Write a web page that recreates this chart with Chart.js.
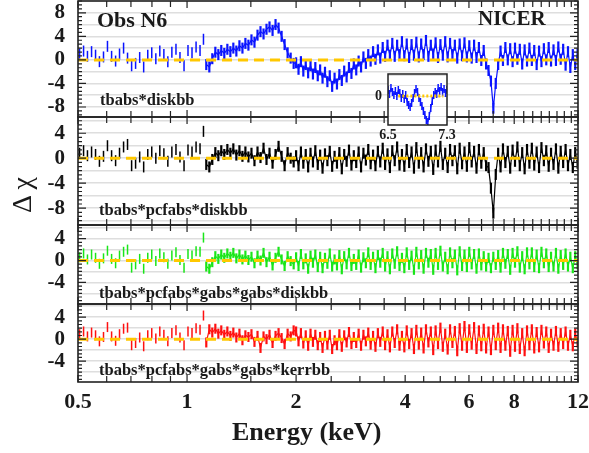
<!DOCTYPE html>
<html>
<head>
<meta charset="utf-8">
<script src="https://cdn.jsdelivr.net/npm/chart.js"></script>
<style>
  body { margin: 0; background: #fff; }
  #wrap { position: relative; width: 589px; height: 453px; overflow: hidden; background: #fff; }
  canvas { position: absolute; left: 0; }
  .lbl { position: absolute; white-space: nowrap; font-family: 'Liberation Serif', 'Times New Roman', serif; font-weight: bold; color: #1a1a1a; }
</style>
</head>
<body>
<div id="wrap">
  <canvas id="p1" width="589" height="120" style="top:-1px"></canvas>
  <canvas id="p2" width="589" height="112" style="top:115px"></canvas>
  <canvas id="p3" width="589" height="83" style="top:223px"></canvas>
  <canvas id="p4" width="589" height="151" style="top:302px"></canvas>
  <canvas id="inset" width="120" height="75" style="left:340px; top:70px; z-index:2"></canvas>

  <div class="lbl" style="left:97px; top:8px; font-size:22px; line-height:24px">Obs N6</div>
  <div class="lbl" style="left:478px; top:6px; font-size:21px; line-height:24px">NICER</div>
  <div class="lbl" style="left:100px; top:91px; font-size:16.5px; line-height:18px">tbabs*diskbb</div>
  <div class="lbl" style="left:99px; top:201px; font-size:16.5px; line-height:18px">tbabs*pcfabs*diskbb</div>
  <div class="lbl" style="left:99px; top:284px; font-size:16.5px; line-height:18px">tbabs*pcfabs*gabs*gabs*diskbb</div>
  <div class="lbl" style="left:99px; top:361px; font-size:16.5px; line-height:18px">tbabs*pcfabs*gabs*gabs*kerrbb</div>
  <div class="lbl" style="left:232px; top:417px; font-size:26px; line-height:30px">Energy (keV)</div>
  <div class="lbl" style="left:-18px; top:180px; width:80px; height:30px; line-height:30px; text-align:center; font-size:28px; font-weight:normal; transform:rotate(-90deg)">Δ χ</div>
</div>

<script>
// Residuals (delta chi) of the NICER spectrum, Obs N6, for four models

// bin energies (keV); the first 32 bins are the sparse low-energy ones
const ENERGY = [
  0.505, 0.518, 0.531, 0.545, 0.559, 0.573, 0.588, 0.603, 0.619, 0.635,
  0.651, 0.668, 0.685, 0.703, 0.721, 0.740, 0.759, 0.779, 0.799, 0.820,
  0.841, 0.863, 0.885, 0.908, 0.932, 0.956, 0.981, 1.006, 1.032, 1.059,
  1.086, 1.110,
  1.130, 1.152, 1.174, 1.197, 1.220, 1.243, 1.267, 1.292, 1.317, 1.342,
  1.368, 1.395, 1.422, 1.449, 1.477, 1.506, 1.535, 1.565, 1.595, 1.626,
  1.657, 1.689, 1.722, 1.755, 1.789, 1.824, 1.859, 1.895, 1.932, 1.969,
  2.000, 2.031, 2.062, 2.094, 2.126, 2.159, 2.192, 2.226, 2.260, 2.295,
  2.330, 2.366, 2.403, 2.440, 2.477, 2.515, 2.554, 2.593, 2.633, 2.674,
  2.715, 2.757, 2.799, 2.843, 2.886, 2.931, 2.976, 3.022, 3.068, 3.116,
  3.164, 3.212, 3.262, 3.312, 3.363, 3.415, 3.468, 3.521, 3.575, 3.630,
  3.686, 3.743, 3.801, 3.859, 3.919, 3.979, 4.040, 4.103, 4.166, 4.230,
  4.295, 4.362, 4.429, 4.497, 4.566, 4.637, 4.708, 4.781, 4.854, 4.929,
  5.005, 5.082, 5.160, 5.240, 5.321, 5.402, 5.486, 5.570, 5.656, 5.743,
  5.832, 5.921, 6.013, 6.105, 6.199, 6.295, 6.392, 6.490, 6.590, 6.692,
  6.795, 6.900, 7.006, 7.114, 7.224, 7.335, 7.448, 7.563, 7.679, 7.798,
  7.918, 8.040, 8.164, 8.289, 8.417, 8.547, 8.679, 8.812, 8.948, 9.086,
  9.226, 9.368, 9.513, 9.659, 9.808, 9.959, 10.11, 10.27, 10.43, 10.59,
  10.75, 10.92, 11.09, 11.26, 11.43, 11.61, 11.79, 11.97
];
const SPARSE_BINS = 32;

// tbabs*diskbb
const RES_DISKBB = [
  1.0, 1.5, 0.6, 1.4, 0.8, -0.3, 0.5, 2.3, 0.6, -0.2, 1.0, 2.0, 0.3, -1.0, -0.6, 0.4,
  -1.2, 0.8, 1.2, 0.2, 1.5, 0.9, -0.3, 1.3, 1.8, 0.4, -1.0, 1.6, 1.2, 2.2, 1.6, 3.5,
  -0.8, -1.2, 0.2, 1.3, 0.9, 1.6, 1.1, 1.8, 1.4, 2.0, 1.5, 2.4, 2.0, 2.8, 2.5,
  3.4, 3.0, 4.2, 4.8, 4.4, 5.2, 5.6, 5.0, 6.0, 5.4, 4.0, 2.6, 1.2, 0.3, -0.6,
  -0.5, -1.6, -0.3, -1.9, -0.8, -2.2, -1.0, -2.4, -1.3, -2.7,
  -1.7, -3.1, -2.1, -3.7, -2.7, -4.5, -3.1, -4.1, -2.5, -3.5,
  -1.9, -2.9, -1.3, -2.3, -0.7, -1.7, -0.2, -1.2, 0.5, -0.6,
  0.9, -0.2, 1.4, 0.1, 1.7, 0.3, 2.1, 0.6, 2.5, 0.8,
  2.8, 0.6, 2.5, 0.9, 3.1, 0.7, 2.7, 0.4, 2.6, 0.8,
  3.0, 0.5, 2.7, 0.9, 3.3, 0.6, 2.5, 1.0, 2.9, 0.4,
  2.6, 0.8, 3.1, 0.5, 2.8, 0.9, 2.5, 0.3, 2.7, 0.7,
  2.9, 0.5, 2.4, 0.3, 2.5, 0.4, 2.1, -0.1, 1.6, -0.7,
  -1.8, -3.6, -8.2, -4.0, -0.8, 1.5, -0.1, 2.1, 0.0, 1.9,
  -0.3, 2.0, 0.1, 1.8, -0.7, 1.7, -0.2, 2.0, -0.1, 1.6,
  -0.8, 1.5, -0.3, 1.9, 0.0, 2.1, -0.2, 1.7, -0.1, 2.2,
  0.1, 1.8, -0.9, 1.4, -1.3, 0.9, -0.8, 1.0
];

// tbabs*pcfabs*diskbb
const RES_PCF_DISKBB = [
  0.8, 1.2, 0.4, 1.0, 0.6, -0.5, 0.3, 2.0, 0.4, -0.4, 0.8, 1.8, 2.2, -1.2, -0.8, 0.2,
  -1.4, 0.6, 1.0, 0.0, 1.2, 0.7, -0.5, 1.0, 1.4, 0.2, -1.2, 1.3, 1.0, 1.8, 1.5, 4.3,
  -1.0, -1.4, -0.2, 0.9, 0.4, 1.2, 0.6, 1.4, 0.8, 1.5, 0.5, 1.2, 0.3, 1.0, 0.2,
  0.8, -0.4, 1.0, 0.1, 1.6, -0.2, 0.8, -0.8, 0.6, 1.9, 0.3, -1.2, 0.9, 0.0, -0.6,
  0.4, -1.2, 1.0, -0.8, 0.6, -1.4, 0.8, -0.6, 1.2, -1.0,
  0.5, -1.6, 0.7, -0.4, 1.1, -1.3, 0.3, -0.8, 0.9, -1.7,
  0.6, -0.5, 1.3, -1.1, 0.4, -0.7, 1.0, -1.4, 0.8, -0.3,
  1.4, -0.9, 0.5, -1.2, 1.1, -0.6, 1.6, -1.0, 0.7, -1.5,
  1.2, -0.4, 1.8, -1.1, 0.6, -1.3, 1.4, -0.7, 1.0, -1.6,
  1.7, -0.8, 0.9, -1.4, 1.5, -0.5, 1.1, -1.8, 1.3, -0.6,
  1.9, -1.0, 0.8, -1.5, 1.4, -0.4, 1.2, -1.7, 1.6, -0.9,
  1.0, -1.3, 1.7, -0.6, 1.1, -1.6, 1.4, -0.8, 0.9, -1.2,
  -1.5, -4.8, -8.8, -2.6, 0.8, -1.4, 1.5, -0.7, 1.1, -1.6,
  1.3, -0.5, 1.8, -1.2, 0.9, -1.7, 1.4, -0.8, 1.6, -1.1,
  1.0, -1.5, 1.7, -0.4, 1.2, -1.3, 0.8, -1.0, 1.5, -1.6,
  1.1, -0.7, 1.4, -1.2, 0.6, -1.5, 0.9, -0.8
];

// tbabs*pcfabs*gabs*gabs*diskbb
const RES_GABS_DISKBB = [
  0.6, 1.3, 0.2, 1.1, 0.5, -0.6, 0.4, 1.8, 0.3, -0.5, 0.9, 1.6, 2.0, -1.3, -0.7, 0.3,
  -1.5, 0.5, 1.1, -0.1, 1.3, 0.6, -0.6, 0.9, 1.5, 0.1, -1.3, 1.2, 0.9, 1.7, 1.6, 4.2,
  -1.1, -1.5, -0.3, 0.8, 0.3, 1.1, 0.5, 1.3, 0.7, 1.4, 0.4, 1.1, 0.2, 0.9, 0.1,
  0.7, -0.5, 0.9, 0.0, 1.4, -0.3, 0.7, -0.9, 0.5, 1.6, 0.2, -1.0, 0.8, -0.1, -0.7,
  0.6, -1.0, 1.2, -0.7, 0.4, -1.5, 0.9, -0.4, 1.1, -1.2,
  0.7, -1.4, 0.5, -0.6, 1.3, -1.1, 0.2, -0.9, 1.0, -1.6,
  0.8, -0.7, 1.4, -1.0, 0.3, -0.8, 1.1, -1.3, 0.6, -0.5,
  1.5, -0.8, 0.7, -1.4, 1.0, -0.4, 1.4, -1.1, 0.8, -1.6,
  1.3, -0.6, 1.7, -1.0, 0.5, -1.4, 1.5, -0.8, 0.9, -1.7,
  1.6, -0.7, 1.0, -1.5, 1.4, -0.4, 1.2, -1.7, 1.4, -0.8,
  1.8, -1.1, 0.7, -1.6, 1.5, -0.5, 1.1, -1.8, 1.7, -1.0,
  1.1, -1.2, 1.6, -0.7, 1.2, -1.5, 1.3, -0.9, 0.8, -1.1,
  0.5, -1.4, 0.7, -0.8, 1.0, -1.3, 1.4, -0.6, 1.2, -1.7,
  1.4, -0.4, 1.7, -1.3, 0.8, -1.6, 1.5, -0.7, 1.5, -1.2,
  1.1, -1.4, 1.6, -0.5, 1.3, -1.2, 0.7, -1.1, 1.4, -1.5,
  1.0, -0.8, 1.3, -1.1, 0.7, -1.4, 0.8, -0.7
];

// tbabs*pcfabs*gabs*gabs*kerrbb
const RES_GABS_KERRBB = [
  0.9, 1.4, 0.5, 1.2, 0.7, -0.4, 0.4, 2.2, 0.5, -0.3, 0.9, 1.9, 2.1, -1.1, -0.7, 0.3,
  -1.3, 0.7, 1.1, 0.1, 1.4, 0.8, -0.4, 1.1, 1.6, 0.3, -1.1, 1.4, 1.1, 2.0, 1.7, 4.3,
  -0.6, 1.8, 1.2, 1.9, 1.0, 1.6, 0.8, 1.4, 0.6, 1.2, 0.3, 1.0, -0.2, 0.7, 0.4,
  0.9, -0.5, 0.6, -1.6, 0.5, 0.0, 0.8, -0.7, 0.6, 1.1, 0.2, -0.9, 1.0, 0.5, 1.6,
  1.4, -0.4, 1.1, -0.8, 0.7, -1.2, 1.0, -0.5, 0.8, -1.1,
  0.4, -1.6, 0.6, -1.0, 0.8, -1.8, -0.2, -1.1, 0.9, -1.4,
  0.7, -0.6, 1.3, -0.9, 0.4, -0.7, 1.0, -1.2, 0.8, -0.4,
  1.2, -1.0, 0.6, -1.4, 1.1, -0.5, 1.4, -1.1, 0.9, -1.5,
  1.4, -0.7, 1.8, -1.2, 0.6, -1.5, 1.6, -0.9, 1.1, -1.8,
  1.7, -1.0, 1.2, -1.7, 1.8, -0.6, 1.4, -2.0, 1.6, -0.9,
  2.1, -1.4, 1.0, -1.9, 1.8, -0.7, 1.5, -2.2, 2.0, -1.2,
  2.4, -1.6, 1.8, -1.0, 2.2, -1.8, 1.6, -1.3, 1.9, -1.7,
  1.4, -2.0, 1.7, -1.1, 2.1, -1.6, 1.8, -1.2, 1.5, -2.3,
  1.7, -1.4, 2.0, -1.8, 1.1, -2.2, 1.6, -1.1, 1.8, -1.7,
  1.3, -1.5, 1.7, -0.8, 1.4, -1.6, 1.0, -1.2, 1.5, -1.4,
  1.1, -0.9, 1.4, -1.2, 0.8, -1.3, 1.0, -0.6
];

// inset: zoom on the Fe K region, tbabs*diskbb residuals
const INSET_ENERGY = [
  6.50, 6.52, 6.54, 6.56, 6.58, 6.60, 6.62, 6.64, 6.66, 6.68,
  6.70, 6.72, 6.74, 6.76, 6.78, 6.80, 6.82, 6.84, 6.86, 6.88,
  6.90, 6.92, 6.94, 6.96, 6.98, 7.00, 7.02, 7.04, 7.06, 7.08,
  7.10, 7.12, 7.14, 7.16, 7.18, 7.20, 7.22, 7.24, 7.26, 7.28, 7.30
];
const INSET_RES = [
  0.6, 0.2, 0.8, 0.4, 0.1, 0.5, 0.0, 0.6, 0.3, -0.2,
  0.2, -0.3, 0.1, -0.6, -0.9, -1.1, -0.7, -0.2, 0.3, 0.7,
  0.4, -0.2, -0.6, -1.0, -1.5, -1.9, -2.4, -2.6, -2.0, -1.2,
  -0.5, 0.1, 0.4, 0.2, 0.8, 0.5, 0.9, 0.4, 0.7, 0.3, 0.6
];
const INSET_ZERO_E = [6.64, 7.25];

// axes
const X_RANGE = [0.5, 12];
const X_LABELS = [0.5, 1, 2, 4, 6, 8, 12];
const X_MINOR = [0.6, 0.7, 0.8, 0.9, 1.5, 2.5, 3, 3.5, 4.5, 5, 5.5, 6.5, 7, 7.5,
                 8.5, 9, 9.5, 10, 10.5, 11, 11.5];
const INSET_X_LABELS = [6.5, 7.3];

const FONT = "'Liberation Serif', 'Times New Roman', serif";
const TEXT = '#1a1a1a';
const ZERO_COLOR = '#ffc800';
const GRID = '#dedede';

// ===== PLUGINS =====

// frame + inward tick marks on all four sides
const frameTicks = {
  id: 'frameTicks',
  afterDatasetsDraw(chart) {
    const { ctx, chartArea: a, scales: { x, y } } = chart;
    ctx.save();
    ctx.strokeStyle = '#222';
    ctx.lineWidth = 1.2;
    ctx.beginPath();
    const xt = (v, len) => {
      const px = x.getPixelForValue(v);
      ctx.moveTo(px, a.top); ctx.lineTo(px, a.top + len);
      ctx.moveTo(px, a.bottom); ctx.lineTo(px, a.bottom - len);
    };
    X_LABELS.forEach(v => xt(v, 7));
    X_MINOR.forEach(v => xt(v, 6));
    const step = 4 / 6;
    for (let k = Math.ceil(y.min / step); k * step <= y.max; k++) {
      const len = (k % 6 === 0) ? 8 : 4;
      const py = y.getPixelForValue(k * step);
      ctx.moveTo(a.left, py); ctx.lineTo(a.left + len, py);
      ctx.moveTo(a.right, py); ctx.lineTo(a.right - len, py);
    }
    ctx.stroke();
    ctx.lineWidth = 1.6;
    ctx.strokeRect(a.left, a.top, a.right - a.left, a.bottom - a.top);
    ctx.restore();
  }
};

const insetBox = {
  id: 'insetBox',
  beforeDraw(chart) {
    const { ctx, chartArea: a } = chart;
    ctx.save();
    ctx.fillStyle = '#fff';
    ctx.fillRect(a.left, a.top, a.right - a.left, a.bottom - a.top);
    ctx.restore();
  },
  afterDatasetsDraw(chart) {
    const { ctx, chartArea: a } = chart;
    ctx.save();
    ctx.strokeStyle = '#222';
    ctx.lineWidth = 1.5;
    ctx.strokeRect(a.left, a.top, a.right - a.left, a.bottom - a.top);
    ctx.restore();
  }
};

// ===== HELPERS =====

function toPoints(xs, ys) {
  return xs.map((e, i) => ({ x: e, y: ys[i] }));
}

// gridline ticks every `step` units inside [min, max]
function stepTicks(s, step) {
  const out = [];
  for (let k = Math.ceil(s.min / step); k * step <= s.max; k++) out.push({ value: k * step });
  s.ticks = out;
}

// no automatic label overflow padding: the plot area is placed by hand
function noOverflow(s) {
  s.paddingTop = 0; s.paddingBottom = 0; s.paddingLeft = 0; s.paddingRight = 0;
}

// ===== PANELS =====

function makePanel(id, res, color, yMin, yMax, barRadius, showX) {
  const pts = toPoints(ENERGY, res);

  return new Chart(document.getElementById(id), {
    type: 'line',
    data: {
      datasets: [
        {
          data: [{ x: X_RANGE[0], y: 0 }, { x: X_RANGE[1], y: 0 }],
          borderColor: ZERO_COLOR,
          borderWidth: 3,
          borderDash: [10, 6],
          pointRadius: 0
        },
        {
          data: pts,
          showLine: false,
          pointStyle: 'line',
          rotation: 90,
          pointRadius: barRadius,
          pointBorderWidth: c => (c.dataIndex < SPARSE_BINS ? 1.5 : 2.2),
          pointBorderColor: color,
          borderColor: color
        },
        {
          data: pts.slice(SPARSE_BINS),
          borderColor: color,
          borderWidth: 1.2,
          pointRadius: 0
        }
      ]
    },
    options: {
      responsive: false,
      animation: false,
      devicePixelRatio: 1,
      layout: { autoPadding: false, padding: { left: 0, right: 11, top: 2, bottom: showX ? 0 : 2 } },
      plugins: { legend: { display: false }, tooltip: { enabled: false } },
      scales: {
        x: {
          type: 'logarithmic',
          min: X_RANGE[0],
          max: X_RANGE[1],
          display: showX,
          grid: { display: false, drawTicks: false },
          border: { display: false },
          afterBuildTicks: s => { s.ticks = X_LABELS.map(v => ({ value: v })); },
          afterFit: s => { s.height = showX ? 71 : 0; noOverflow(s); },
          ticks: {
            autoSkip: false,
            maxRotation: 0,
            padding: 9,
            color: TEXT,
            font: { family: FONT, size: 22, weight: 'bold', lineHeight: 1 },
            callback: v => String(v)
          }
        },
        y: {
          min: yMin,
          max: yMax,
          afterBuildTicks: s => stepTicks(s, 2),
          afterFit: s => { s.width = 78; noOverflow(s); },
          grid: { color: GRID, lineWidth: 1.5, drawTicks: false },
          border: { display: false },
          ticks: {
            autoSkip: false,
            padding: 13,
            color: TEXT,
            font: { family: FONT, size: 21, weight: 'bold' },
            callback: v => (Math.round(v) % 4 === 0 ? String(v) : '')
          }
        }
      }
    },
    plugins: [frameTicks]
  });
}

makePanel('p1', RES_DISKBB, '#0a14ff', -9.7, 10.0, 5.5, false);
makePanel('p2', RES_PCF_DISKBB, '#000000', -10.7, 6.6, 5.5, false);
makePanel('p3', RES_GABS_DISKBB, '#19e619', -7.95, 6.5, 5, false);
makePanel('p4', RES_GABS_KERRBB, '#ff1010', -7.8, 6.4, 5, true);

// ===== INSET =====
const insetPts = toPoints(INSET_ENERGY, INSET_RES);
new Chart(document.getElementById('inset'), {
  type: 'line',
  data: {
    datasets: [
      {
        data: INSET_ZERO_E.map(e => ({ x: e, y: 0 })),
        borderColor: ZERO_COLOR,
        borderWidth: 3,
        borderDash: [2, 2],
        pointRadius: 0
      },
      {
        data: insetPts,
        showLine: false,
        pointStyle: 'line',
        rotation: 90,
        pointRadius: 4,
        pointBorderWidth: 1.5,
        pointBorderColor: '#0a14ff'
      },
      {
        data: insetPts,
        borderColor: '#0a14ff',
        borderWidth: 1,
        pointRadius: 0
      }
    ]
  },
  options: {
    responsive: false,
    animation: false,
    devicePixelRatio: 1,
    layout: { autoPadding: false, padding: { left: 0, right: 13, top: 4, bottom: 0 } },
    plugins: { legend: { display: false }, tooltip: { enabled: false } },
    scales: {
      x: {
        type: 'linear',
        min: 6.5,
        max: 7.3,
        grid: { display: false, drawTicks: false },
        border: { display: false },
        afterBuildTicks: s => { s.ticks = INSET_X_LABELS.map(v => ({ value: v })); },
        afterFit: s => { s.height = 20; noOverflow(s); },
        ticks: {
          padding: 3,
          maxRotation: 0,
          autoSkip: false,
          color: TEXT,
          font: { family: FONT, size: 14, weight: 'bold', lineHeight: 1 },
          callback: v => v.toFixed(1)
        }
      },
      y: {
        min: -2.9,
        max: 2.2,
        afterBuildTicks: s => stepTicks(s, 1),
        afterFit: s => { s.width = 48; noOverflow(s); },
        grid: { color: GRID, lineWidth: 1, drawTicks: false },
        border: { display: false },
        ticks: {
          autoSkip: false,
          padding: 6,
          color: TEXT,
          font: { family: FONT, size: 14, weight: 'bold' },
          callback: v => (v === 0 ? '0' : '')
        }
      }
    }
  },
  plugins: [insetBox]
});
</script>
</body>
</html>
